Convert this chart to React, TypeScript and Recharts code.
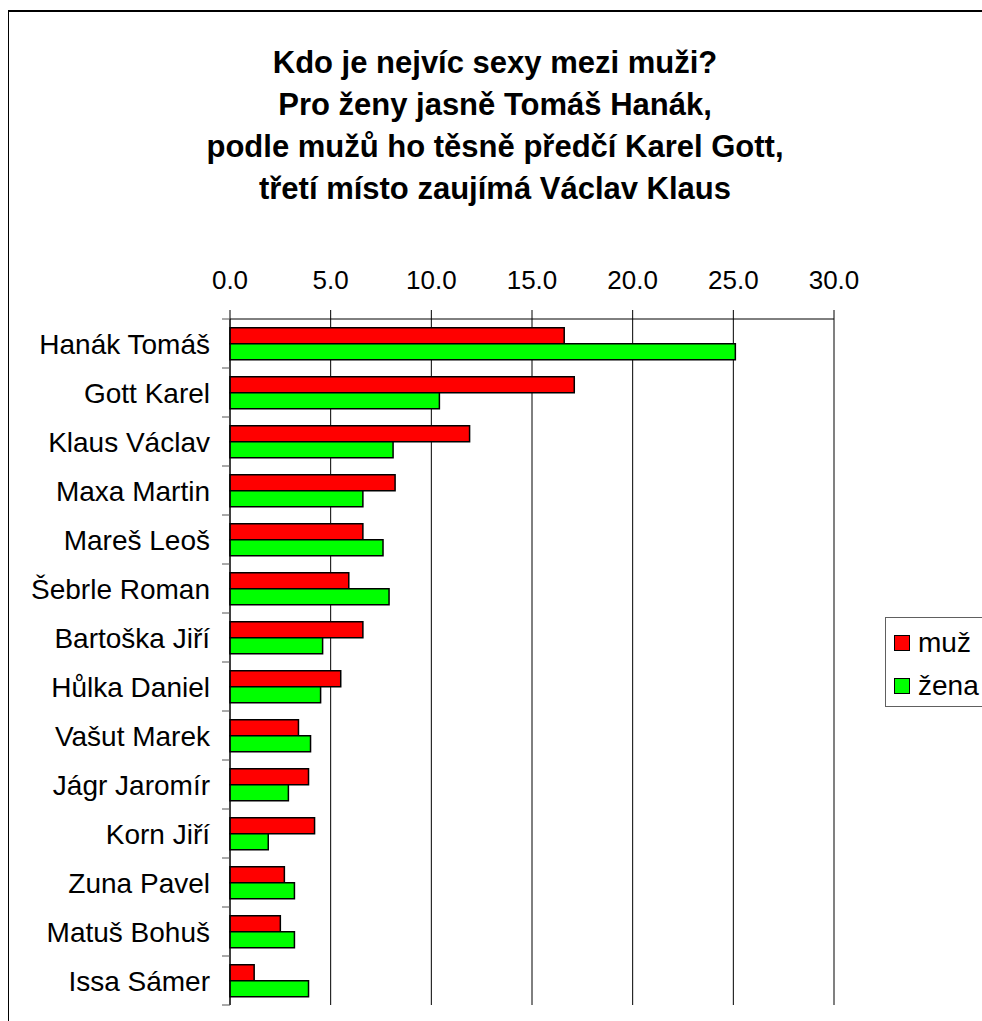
import React from "react";
import {
  BarChart,
  Bar,
  XAxis,
  YAxis,
  CartesianGrid,
  ReferenceLine,
} from "recharts";

const names = [
  "Hanák Tomáš",
  "Gott Karel",
  "Klaus Václav",
  "Maxa Martin",
  "Mareš Leoš",
  "Šebrle Roman",
  "Bartoška Jiří",
  "Hůlka Daniel",
  "Vašut Marek",
  "Jágr Jaromír",
  "Korn Jiří",
  "Zuna Pavel",
  "Matuš Bohuš",
  "Issa Sámer",
];

const muz = [16.6, 17.1, 11.9, 8.2, 6.6, 5.9, 6.6, 5.5, 3.4, 3.9, 4.2, 2.7, 2.5, 1.2];
const zena = [25.1, 10.4, 8.1, 6.6, 7.6, 7.9, 4.6, 4.5, 4.0, 2.9, 1.9, 3.2, 3.2, 3.9];

const xTicks = [0, 5, 10, 15, 20, 25, 30];

const titleLines = [
  "Kdo je nejvíc sexy mezi muži?",
  "Pro ženy jasně Tomáš Hanák,",
  "podle mužů ho těsně předčí Karel Gott,",
  "třetí místo zaujímá Václav Klaus",
];

const series = [
  { key: "muz", name: "muž", color: "#ff0000" },
  { key: "zena", name: "žena", color: "#00ff00" },
];

const data = names.map((name, i) => ({ name, muz: muz[i], zena: zena[i] }));

const FONT = "Arial, 'Liberation Sans', sans-serif";
const BAND = 686 / names.length;

function NameTick(props: any) {
  const { x, y, payload, index } = props;
  return (
    <g>
      <text
        x={x}
        y={y}
        dy="0.36em"
        textAnchor="end"
        fontSize={28}
        fontFamily={FONT}
        fill="#000"
      >
        {payload.value}
      </text>
      <line x1={x + 12} x2={x + 20} y1={y - BAND / 2} y2={y - BAND / 2} stroke="#555" />
      {index === names.length - 1 && (
        <line x1={x + 12} x2={x + 20} y1={y + BAND / 2} y2={y + BAND / 2} stroke="#555" />
      )}
    </g>
  );
}

export default function App() {
  return (
    <div
      style={{
        position: "fixed",
        left: 8,
        top: 8,
        width: 974,
        height: 1013,
        overflow: "hidden",
        fontFamily: FONT,
        background: "#fff",
      }}
    >
      <div
        style={{
          position: "absolute",
          left: -1,
          top: 2,
          width: 1100,
          height: 1100,
          border: "2px solid #000",
        }}
      />
      <div
        style={{
          position: "absolute",
          left: 0,
          top: 34,
          width: 974,
          textAlign: "center",
          fontWeight: "bold",
          fontSize: 31,
          lineHeight: "42px",
          color: "#000",
        }}
      >
        {titleLines.map((t) => (
          <div key={t}>{t}</div>
        ))}
      </div>

      <div style={{ position: "absolute", left: 0, top: 0 }}>
        <BarChart
          width={974}
          height={1013}
          data={data}
          layout="vertical"
          margin={{ top: 281, right: 148, bottom: 16, left: 0 }}
          barCategoryGap="18%"
          barGap={0}
        >
          <CartesianGrid horizontal={false} stroke="#000" xAxisId="top" />
          <XAxis
            xAxisId="top"
            type="number"
            orientation="top"
            domain={[0, 30]}
            ticks={xTicks}
            height={30}
            tickSize={9}
            tickMargin={21}
            tickFormatter={(v: number) => v.toFixed(1)}
            tick={{ fontSize: 26, fontFamily: FONT, fill: "#000" }}
            axisLine={{ stroke: "#000" }}
            tickLine={{ stroke: "#000" }}
            interval={0}
          />
          <XAxis
            xAxisId="bottom"
            type="number"
            orientation="bottom"
            domain={[0, 30]}
            height={0}
            tick={false}
            tickLine={false}
            axisLine={{ stroke: "#808080", strokeWidth: 2 }}
          />
          <YAxis
            type="category"
            dataKey="name"
            width={222}
            tickSize={0}
            tickMargin={20}
            tickLine={false}
            axisLine={{ stroke: "#000" }}
            tick={<NameTick />}
            interval={0}
          />
          <ReferenceLine xAxisId="top" x={30} stroke="#808080" strokeWidth={2} />
          {series.map((s) => (
            <Bar
              key={s.key}
              xAxisId="top"
              dataKey={s.key}
              name={s.name}
              fill={s.color}
              stroke="#000"
              strokeWidth={1.5}
              isAnimationActive={false}
            />
          ))}
        </BarChart>
      </div>

      <div
        style={{
          position: "absolute",
          left: 877,
          top: 609,
          width: 140,
          height: 88,
          border: "1px solid #606060",
          background: "#fff",
        }}
      >
        {series.map((s, i) => (
          <div
            key={s.key}
            style={{
              position: "absolute",
              left: 8,
              top: 9 + i * 43,
              display: "flex",
              alignItems: "center",
              fontSize: 28,
              lineHeight: "32px",
            }}
          >
            <span
              style={{
                display: "inline-block",
                width: 14,
                height: 14,
                background: s.color,
                border: "1.5px solid #000",
                marginRight: 8,
              }}
            />
            {s.name}
          </div>
        ))}
      </div>
    </div>
  );
}
